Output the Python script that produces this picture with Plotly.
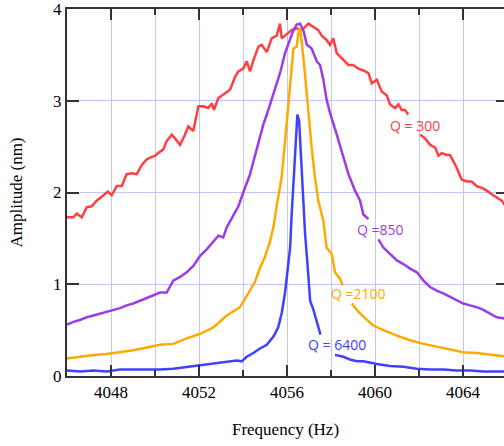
import plotly.graph_objects as go

# ---- data (frequency in Hz, amplitude in nm) ----
red_f = [4046.0, 4046.29, 4046.44, 4046.67, 4046.9, 4047.12, 4047.35, 4047.64, 4047.86, 4048.03,
         4048.26, 4048.49, 4048.71, 4048.94, 4049.17, 4049.4, 4049.62, 4049.77, 4050.0, 4050.15,
         4050.38, 4050.53, 4050.76, 4050.91, 4051.14, 4051.36, 4051.51, 4051.74, 4051.97, 4052.2,
         4052.42, 4052.58, 4052.68, 4052.88, 4053.15, 4053.41, 4053.64, 4053.79, 4054.01, 4054.17,
         4054.32, 4054.47, 4054.7, 4054.85, 4055.08, 4055.3, 4055.53, 4055.68, 4055.76, 4055.99,
         4056.21, 4056.44, 4056.67, 4056.97, 4057.2, 4057.42, 4057.58, 4057.8, 4057.95, 4058.1,
         4058.26, 4058.56, 4058.79, 4059.01, 4059.24, 4059.47, 4059.7, 4059.85, 4060.08, 4060.3,
         4060.53, 4060.68, 4060.91, 4061.06, 4061.21, 4061.36, 4061.51, None,
         4062.05, 4062.27, 4062.5, 4062.73, 4062.88, 4063.03, 4063.26, 4063.41, 4063.56, 4063.71,
         4063.94, 4064.17, 4064.39, 4064.62, 4064.85, 4065.08, 4065.3, 4065.53, 4065.76, 4066.0]
red_a = [1.73, 1.73, 1.77, 1.73, 1.84, 1.85, 1.91, 1.97, 2.01, 1.97,
         2.07, 2.07, 2.20, 2.21, 2.20, 2.30, 2.36, 2.38, 2.40, 2.43,
         2.47, 2.56, 2.63, 2.59, 2.52, 2.63, 2.72, 2.67, 2.94, 2.94,
         2.92, 2.97, 2.90, 3.03, 3.08, 3.12, 3.26, 3.32, 3.35, 3.43,
         3.32, 3.44, 3.59, 3.61, 3.53, 3.68, 3.71, 3.84, 3.68, 3.73,
         3.77, 3.79, 3.77, 3.84, 3.80, 3.77, 3.71, 3.66, 3.61, 3.68,
         3.52, 3.44, 3.39, 3.39, 3.35, 3.33, 3.30, 3.19, 3.23, 3.10,
         3.06, 2.96, 2.92, 2.96, 2.90, 2.90, 2.85, None,
         2.63, 2.59, 2.52, 2.49, 2.40, 2.43, 2.41, 2.41, 2.34, 2.27,
         2.14, 2.12, 2.12, 2.07, 2.05, 2.02, 1.98, 1.94, 1.91, 1.83]

purple_f = [4046.0, 4046.29, 4046.59, 4046.9, 4047.2, 4047.5, 4047.8, 4048.1, 4048.41, 4048.71,
            4049.01, 4049.32, 4049.62, 4049.92, 4050.23, 4050.53, 4050.83, 4051.14, 4051.44, 4051.74,
            4052.05, 4052.35, 4052.65, 4052.88, 4053.1, 4053.26, 4053.56, 4053.79, 4054.01, 4054.32,
            4054.62, 4054.92, 4055.08, 4055.23, 4055.45, 4055.68, 4055.91, 4056.14, 4056.29, 4056.44,
            4056.59, 4056.74, 4056.9, 4057.12, 4057.35, 4057.5, 4057.65, 4057.8, 4057.95, 4058.26,
            4058.56, 4058.79, 4059.09, 4059.32, 4059.47, 4059.7, None,
            4060.15, 4060.38, 4060.68, 4060.99, 4061.29, 4061.59, 4061.9, 4062.2, 4062.5, 4062.8,
            4063.1, 4063.41, 4063.71, 4064.01, 4064.32, 4064.62, 4064.92, 4065.23, 4065.53, 4065.83, 4066.0]
purple_a = [0.56, 0.59, 0.61, 0.64, 0.66, 0.68, 0.70, 0.72, 0.74, 0.77,
            0.79, 0.82, 0.85, 0.88, 0.91, 0.91, 1.04, 1.08, 1.13, 1.20,
            1.31, 1.38, 1.46, 1.53, 1.51, 1.62, 1.75, 1.85, 2.00, 2.20,
            2.47, 2.74, 2.85, 2.96, 3.14, 3.30, 3.52, 3.68, 3.77, 3.83,
            3.84, 3.77, 3.61, 3.57, 3.43, 3.39, 3.23, 3.01, 2.87, 2.63,
            2.38, 2.20, 2.02, 1.91, 1.76, 1.71, None,
            1.49, 1.40, 1.33, 1.26, 1.22, 1.17, 1.13, 1.04, 0.97, 0.93,
            0.90, 0.86, 0.82, 0.79, 0.77, 0.75, 0.72, 0.68, 0.64, 0.63, 0.61]

orange_f = [4046.0, 4046.59, 4047.2, 4047.8, 4048.41, 4049.01, 4049.62, 4050.23, 4050.83, 4051.44,
            4052.05, 4052.65, 4053.26, 4053.86, 4054.24, 4054.55, 4054.77, 4055.0, 4055.23, 4055.38,
            4055.53, 4055.68, 4055.76, 4055.91, 4056.06, 4056.21, 4056.29, 4056.44, 4056.51, 4056.59,
            4056.67, 4056.82, 4056.97, 4057.12, 4057.27, 4057.42, 4057.65, 4057.8, 4058.03, 4058.18,
            4058.41, 4058.53, None,
            4058.94, 4059.24, 4059.55, 4059.92, 4060.38, 4060.99, 4061.59, 4062.2, 4062.8, 4063.41,
            4064.01, 4064.62, 4065.23, 4065.83, 4066.0]
orange_a = [0.19, 0.21, 0.23, 0.24, 0.26, 0.28, 0.31, 0.34, 0.35, 0.41,
            0.46, 0.53, 0.66, 0.75, 0.90, 1.03, 1.18, 1.30, 1.47, 1.62,
            1.85, 2.05, 2.18, 2.56, 2.99, 3.35, 3.57, 3.59, 3.73, 3.79,
            3.64, 3.28, 2.85, 2.49, 2.16, 1.91, 1.69, 1.40, 1.33, 1.13,
            1.06, 0.99, None,
            0.79, 0.70, 0.63, 0.55, 0.50, 0.44, 0.39, 0.35, 0.32, 0.29,
            0.26, 0.25, 0.23, 0.21, 0.21]

blue_f = [4046.0, 4046.59, 4047.2, 4047.8, 4048.41, 4049.01, 4049.62, 4050.23, 4050.83, 4051.44,
          4052.05, 4052.65, 4053.26, 4053.71, 4053.94, 4054.17, 4054.47, 4054.77, 4055.08, 4055.38,
          4055.6, 4055.76, 4055.91, 4056.06, 4056.14, 4056.21, 4056.32, 4056.4, 4056.47, 4056.55,
          4056.62, 4056.71, 4056.82, 4056.97, 4057.05, 4057.2, 4057.35, 4057.52, None,
          4058.18, 4058.56, 4058.86, 4059.17, 4059.47, 4060.08, 4060.68, 4061.29, 4061.9, 4062.5,
          4063.1, 4063.71, 4064.32, 4064.92, 4065.53, 4066.0]
blue_a = [0.06, 0.05, 0.06, 0.05, 0.07, 0.07, 0.07, 0.07, 0.08, 0.10,
          0.12, 0.14, 0.16, 0.17, 0.16, 0.21, 0.25, 0.30, 0.34, 0.43,
          0.53, 0.69, 0.91, 1.22, 1.40, 1.76, 2.20, 2.56, 2.85, 2.78,
          2.45, 1.98, 1.55, 1.09, 0.82, 0.72, 0.59, 0.45, None,
          0.23, 0.21, 0.18, 0.16, 0.16, 0.13, 0.11, 0.10, 0.08, 0.07,
          0.07, 0.06, 0.06, 0.05, 0.05, 0.05]

labels = ["Q = 300", "Q =850", "Q =2100", "Q = 6400"]
label_f = [4061.82, 4060.23, 4059.24, 4058.26]
label_a = [2.73, 1.60, 0.90, 0.34]

colors = ["#ff4040", "#9a3de8", "#ffaa00", "#4040ff"]
series = [(red_f, red_a), (purple_f, purple_a), (orange_f, orange_a), (blue_f, blue_a)]

X_RANGE = [4046, 4065.86]
Y_RANGE = [0, 4]

fig = go.Figure()

# invisible trace carrying the secondary axes (vertical grid every 2 Hz, right-side ticks)
fig.add_trace(go.Scatter(x=[4046], y=[0], xaxis="x2", yaxis="y2", mode="markers",
                         marker=dict(opacity=0), showlegend=False, hoverinfo="skip"))

for (fx, fy), c in zip(series, colors):
    fig.add_trace(go.Scatter(x=fx, y=fy, mode="lines", line=dict(color=c, width=2.5),
                             connectgaps=False, showlegend=False, hoverinfo="skip"))

for t, fx, fy, c in zip(labels, label_f, label_a, colors):
    fig.add_annotation(x=fx, y=fy, text=t, showarrow=False,
                       font=dict(family="Open Sans", size=14, color=c))

grid = "#c4c4ff"
axcol = "#333333"
serif = "Liberation Serif"

fig.update_layout(
    width=504, height=446,
    margin=dict(l=67, r=0, t=7, b=70),
    paper_bgcolor="white", plot_bgcolor="white",
    xaxis=dict(range=X_RANGE, tick0=4048, dtick=4,
               ticks="inside", ticklen=11, tickwidth=2, tickcolor=axcol,
               showline=True, linecolor=axcol, linewidth=2, mirror="ticks",
               showgrid=False, zeroline=False,
               minor=dict(dtick=2, tick0=4048, ticks="inside", ticklen=6, tickwidth=1.5,
                          tickcolor=axcol, showgrid=False),
               tickfont=dict(family=serif, size=17, color="black"),
               title=dict(text="Frequency (Hz)", font=dict(family=serif, size=17, color="black"),
                          standoff=22)),
    xaxis2=dict(range=X_RANGE, tick0=4048, dtick=2, overlaying="x", side="bottom",
                showgrid=True, gridcolor=grid, gridwidth=1, ticks="", showticklabels=False,
                showline=False, zeroline=False, layer="below traces"),
    yaxis=dict(range=Y_RANGE, tickvals=[0, 1, 2, 3, 4], ticks="inside", ticklen=12, tickwidth=2,
               tickcolor=axcol, ticklabeloverflow="allow",
               showline=True, linecolor=axcol, linewidth=2, mirror=False,
               showgrid=True, gridcolor=grid, gridwidth=1, zeroline=False,
               tickfont=dict(family=serif, size=17, color="black"),
               title=dict(text="Amplitude (nm)", font=dict(family=serif, size=17, color="black"),
                          standoff=26)),
    yaxis2=dict(range=Y_RANGE, dtick=1, overlaying="y", side="right", ticks="inside",
                ticklen=8, tickwidth=2, tickcolor=axcol, showline=False, showgrid=False,
                showticklabels=False, zeroline=False),
)

fig.write_html("out.html")
